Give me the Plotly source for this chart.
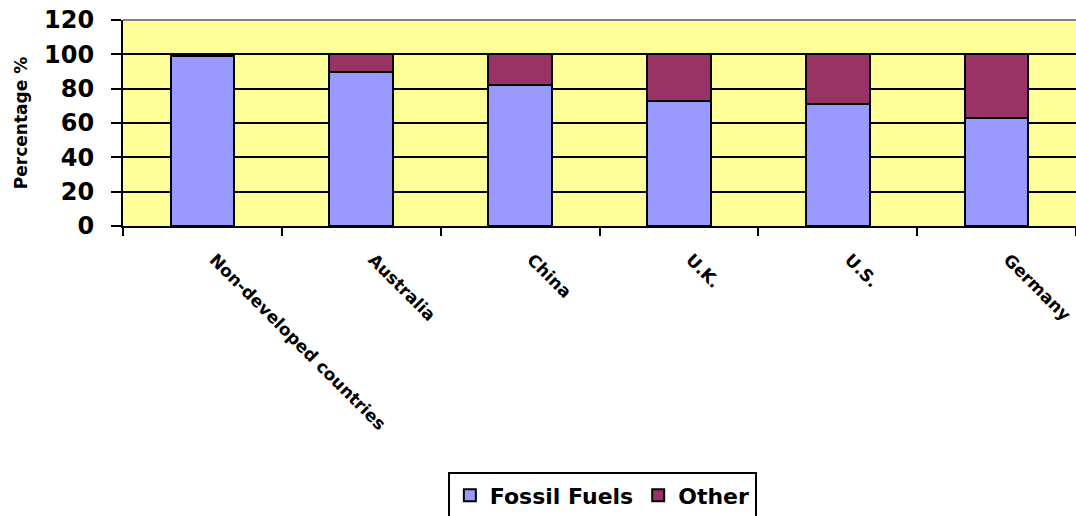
import plotly.graph_objects as go

# Share of energy supply by source, per country group
countries = ["Non-developed countries", "Australia", "China", "U.K.", "U.S.", "Germany"]
fossil_fuels = [99, 90, 82, 73, 71, 63]
other = [1, 10, 18, 27, 29, 37]

y_ticks = [0, 20, 40, 60, 80, 100, 120]

FONT = "DejaVu Sans"

fig = go.Figure()
fig.add_trace(go.Bar(
    x=countries, y=fossil_fuels, name="Fossil Fuels",
    marker=dict(color="#9999FF", line=dict(color="black", width=2)),
))
fig.add_trace(go.Bar(
    x=countries, y=other, name="Other",
    marker=dict(color="#993366", line=dict(color="black", width=2)),
))

fig.update_layout(
    width=1076, height=516,
    margin=dict(l=123, r=0, t=20, b=290, autoexpand=False),
    barmode="stack", bargap=0.6,
    paper_bgcolor="white", plot_bgcolor="#FFFF99",
    font=dict(family=FONT, color="black"),
    showlegend=True,
    legend=dict(
        orientation="h", traceorder="normal",
        x=0.503, xanchor="center", y=-1.196, yanchor="top",
        bgcolor="white", bordercolor="black", borderwidth=2,
        font=dict(family=FONT, size=22, weight="bold", color="black"),
        itemclick=False,
    ),
    xaxis=dict(
        type="category", tickangle=45,
        tickfont=dict(family=FONT, size=17, weight="bold", color="black"),
        ticklabelshift=12, ticklabelstandoff=15,
        showline=True, linecolor="black", linewidth=2,
        ticks="outside", tickson="boundaries", ticklen=8, tickwidth=2, tickcolor="black",
        showgrid=False,
    ),
    yaxis=dict(
        range=[0, 120], tickvals=y_ticks,
        tickfont=dict(family=FONT, size=24, weight="bold", color="black"),
        showline=True, linecolor="black", linewidth=2,
        ticks="outside", ticklen=10, tickwidth=2, tickcolor="black",
        ticklabelstandoff=12,
        showgrid=True, gridcolor="black", gridwidth=2,
        zeroline=False,
        title=dict(text="Percentage %", standoff=12,
                   font=dict(family=FONT, size=17, weight="bold", color="black")),
    ),
    shapes=[dict(type="line", xref="paper", yref="paper", x0=0, x1=1, y0=1, y1=1,
                 line=dict(color="#808080", width=2), layer="above")],
)

fig.write_html("out.html")
